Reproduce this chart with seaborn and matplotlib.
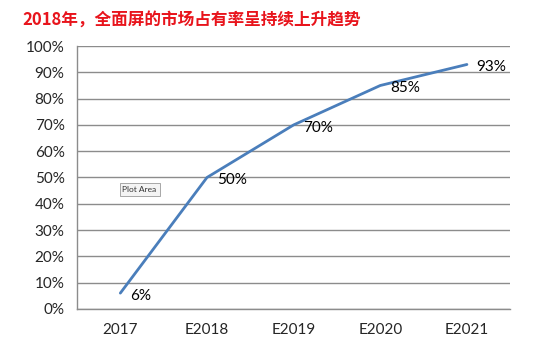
import numpy as np
import pandas as pd
import matplotlib
matplotlib.use("Agg")
import matplotlib.pyplot as plt
import seaborn as sns

# data
years = ["2017", "E2018", "E2019", "E2020", "E2021"]
share = [0.06, 0.50, 0.70, 0.85, 0.93]
share_labels = ["6%", "50%", "70%", "85%", "93%"]
y_ticks = [0, 0.1, 0.2, 0.3, 0.4, 0.5, 0.6, 0.7, 0.8, 0.9, 1.0]

sns.set_style("white")
plt.rcParams['font.family'] = ['Lato', 'DejaVu Sans']

df = pd.DataFrame({"pos": range(len(years)), "share": share})

fig = plt.figure(figsize=(5.54, 3.6), dpi=100)
ax = fig.add_axes([0.139, 0.142, 0.782, 0.730])

sns.lineplot(data=df, x="pos", y="share", color="#4A7EBB", linewidth=2, ax=ax)

# value labels to the right of each point
for x, y, lab in zip(df["pos"], df["share"], share_labels):
    ax.annotate(lab, (x, y), xytext=(7, -2), textcoords="offset points",
                ha="left", va="center", fontsize=11, color="black")

ax.set_xlim(-0.5, len(years) - 0.5)
ax.set_ylim(0, 1.0)
ax.set_yticks(y_ticks)
ax.set_yticklabels([f"{int(round(t * 100))}%" for t in y_ticks], fontsize=11)
ax.yaxis.grid(True, color="#8C8C8C", linewidth=1)
ax.set_axisbelow(True)

# category boundaries as major ticks, labels on minor ticks
ax.set_xticks(np.arange(-0.5, len(years), 1.0))
ax.set_xticklabels([])
ax.set_xticks(range(len(years)), minor=True)
ax.set_xticklabels(years, minor=True, fontsize=11)
ax.tick_params(axis="x", which="minor", length=0, pad=10)
ax.tick_params(axis="x", which="major", length=5, color="#8C8C8C", direction="out")
ax.tick_params(axis="y", length=5, color="#8C8C8C", direction="out", pad=4)

for side in ["top", "right"]:
    ax.spines[side].set_visible(False)
for side in ["left", "bottom"]:
    ax.spines[side].set_color("#8C8C8C")
    ax.spines[side].set_linewidth(1)

ax.set_xlabel("")
ax.set_ylabel("")

# "Plot Area" tooltip from the screenshot
ax.text(0.105, 0.455, "Plot Area", transform=ax.transAxes, fontsize=6,
        color="#333333", ha="left", va="center",
        bbox=dict(boxstyle="square,pad=0.35", fc="#F4F4F4", ec="#9A9A9A", lw=0.6))

fig.text(0.04, 0.945, "2018年，全面屏的市场占有率呈持续上升趋势",
         fontsize=12, fontweight="bold", color="#E8141C",
         family=['Noto Sans CJK SC', 'DejaVu Sans'], ha="left", va="center")

fig.savefig("out.png", dpi=100)
